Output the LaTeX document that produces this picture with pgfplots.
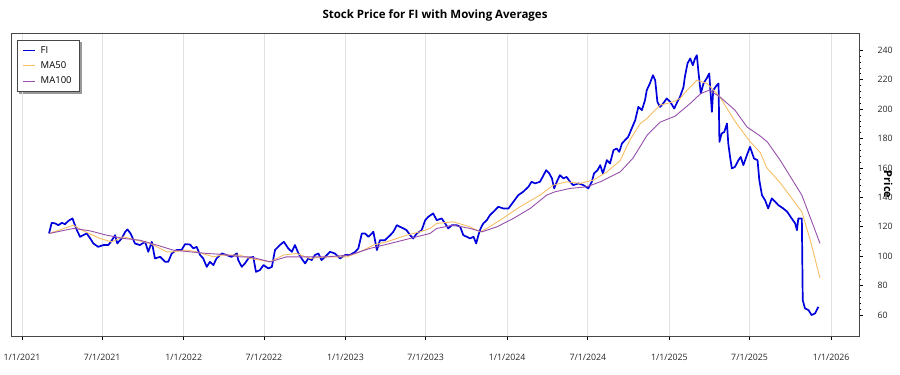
\documentclass[border=0pt]{standalone}
\usepackage{pgfplots}
\pgfplotsset{compat=1.18}
\usepackage{pgfplotstable}
\usepackage{fontspec}
\setmainfont{Open Sans}
\usetikzlibrary{backgrounds}
\definecolor{fiblue}{RGB}{0,0,220}
\definecolor{maorange}{RGB}{245,190,100}
\definecolor{mapurple}{RGB}{150,80,170}
\definecolor{gridc}{RGB}{226,226,226}
\definecolor{framec}{RGB}{70,70,70}

\pgfplotstableread{
d v
61 115.5
67 122.7
75 122.3
82 121.1
90 122.7
97 121.8
105 124.1
114 125.7
118 122.3
124 117.7
131 113.2
138 114.3
146 115.5
154 112.1
161 108.7
172 106.4
184 107.6
195 107.6
203 110.9
210 114.3
215 108.7
225 112.1
233 116.6
238 118.2
245 115.5
255 108.7
266 107.6
278 109.8
285 103.0
293 109.8
300 98.5
312 99.6
323 96.2
330 96.2
338 101.9
349 104.2
360 104.2
368 108.2
379 108.0
387 105.3
394 106.4
402 100.8
409 98.5
417 92.8
424 96.2
432 94.0
439 98.5
451 101.9
462 100.8
473 99.6
485 101.9
488 97.4
496 92.8
503 95.1
511 98.5
522 99.6
528 89.4
537 90.6
545 94.0
556 91.7
564 92.8
571 104.2
582 107.6
591 109.8
601 105.3
609 103.0
616 107.6
624 101.9
631 98.5
639 95.1
646 98.5
654 97.4
661 100.8
669 101.9
676 97.4
684 99.6
695 103.0
706 101.9
718 98.5
729 100.8
740 100.8
752 103.0
759 105.3
767 115.5
774 115.5
782 113.2
793 116.6
801 104.2
808 110.9
819 110.9
831 114.3
838 116.6
846 121.1
853 120.0
861 118.9
868 117.7
876 114.3
883 112.1
891 115.5
902 117.7
910 124.5
917 126.8
928 129.1
936 124.5
947 125.7
955 122.3
962 118.9
970 121.1
981 121.1
989 120.0
996 114.3
1004 113.2
1011 112.1
1019 113.2
1025 108.7
1030 114.3
1035 118.9
1041 122.3
1049 124.5
1056 127.9
1064 130.2
1075 133.6
1086 132.5
1098 132.5
1109 137.0
1120 141.5
1131 143.8
1143 147.2
1150 150.6
1158 149.5
1169 150.6
1175 153.9
1183 158.5
1190 156.3
1196 152.9
1201 146.1
1207 150.6
1214 155.1
1222 152.9
1229 153.9
1237 150.6
1244 148.3
1256 149.5
1267 148.3
1278 146.1
1286 150.6
1291 156.3
1299 158.5
1305 161.9
1311 156.3
1320 165.3
1327 163.0
1335 172.1
1342 173.2
1348 170.9
1354 176.6
1361 178.9
1368 181.1
1376 186.8
1384 192.5
1391 201.5
1399 199.3
1406 206.0
1410 212.8
1417 217.4
1424 223.0
1429 219.6
1434 204.9
1440 201.5
1447 203.8
1455 207.2
1463 204.9
1472 200.4
1479 204.9
1485 208.3
1493 215.1
1496 221.9
1502 231.0
1508 234.4
1514 229.8
1519 234.4
1523 236.6
1527 224.2
1532 210.6
1538 217.4
1545 220.8
1551 224.2
1557 198.1
1560 212.8
1568 216.2
1572 217.4
1574 177.7
1579 183.4
1585 184.5
1591 190.2
1594 176.6
1598 167.5
1602 159.7
1609 160.7
1617 165.3
1622 167.5
1628 161.9
1636 168.7
1643 174.3
1647 170.9
1652 166.4
1660 165.3
1664 151.7
1670 141.5
1677 138.1
1684 132.5
1692 139.3
1700 137.0
1707 134.7
1718 132.5
1727 130.2
1737 125.7
1745 122.3
1749 117.7
1752 125.7
1760 125.7
1762 70.2
1767 64.6
1775 63.4
1782 60.0
1790 61.2
1797 65.6
}\fidata

\pgfplotstableread{
d v
62 115.5
116 121.1
138 117.3
176 112.1
202 109.8
229 113.2
259 110.9
289 108.7
327 103.0
341 103.0
372 104.2
394 103.0
432 99.6
451 100.8
492 100.8
515 98.5
560 96.2
590 100.8
620 101.9
650 98.5
688 99.6
733 99.6
763 103.0
793 107.6
823 109.8
868 114.3
898 116.6
921 118.9
936 122.3
973 123.4
1011 120.0
1034 116.6
1049 118.9
1079 124.5
1124 133.6
1169 141.5
1199 148.3
1229 150.6
1259 149.5
1289 151.7
1320 157.3
1350 165.0
1372 179.0
1395 190.0
1410 193.5
1440 202.7
1469 204.9
1485 207.2
1501 212.8
1523 219.6
1546 217.4
1575 208.3
1598 197.0
1613 190.0
1643 178.0
1666 170.5
1681 160.0
1711 150.0
1760 130.2
1779 110.9
1801 85.1
}\mafifty

\pgfplotstableread{
d v
62 115.5
116 118.9
153 117.3
191 114.3
229 112.1
266 110.9
304 107.6
341 104.2
379 103.0
417 101.9
454 101.2
492 99.6
515 99.6
560 96.2
597 99.6
635 99.6
688 99.6
740 100.8
785 105.3
831 108.7
876 112.1
921 115.5
936 118.9
973 121.1
1011 118.9
1038 116.6
1072 120.0
1109 125.7
1147 132.5
1184 141.5
1203 143.8
1237 146.1
1275 147.2
1305 150.6
1350 157.3
1379 166.7
1411 182.3
1440 191.1
1474 195.2
1508 203.8
1532 210.6
1551 212.8
1575 208.3
1609 199.3
1636 187.9
1666 181.7
1682 177.7
1711 165.3
1760 141.5
1801 108.7
}\mahundred

\begin{document}
\begin{tikzpicture}[x=1pt,y=1pt]
\path[use as bounding box] (0,0) rectangle (900,375);
\begin{axis}[
  at={(11pt,39pt)}, anchor=south west,
  scale only axis, width=848pt, height=303pt,
  xmin=-24.8, xmax=1889, ymin=45.8, ymax=251.7,
  xtick={0,181,365,546,730,911,1095,1277,1461,1642,1826},
  xticklabels={1/1/2021,7/1/2021,1/1/2022,7/1/2022,1/1/2023,7/1/2023,1/1/2024,7/1/2024,1/1/2025,7/1/2025,1/1/2026},
  xmajorgrids,
  major grid style={gridc, line width=0.8pt},
  ytick={60,80,...,240},
  minor y tick num=4,
  xtick pos=bottom, ytick pos=right,
  yticklabel pos=right,
  tick align=outside,
  major tick length=4pt, minor tick length=2pt,
  tick style={black, line width=0.7pt},
  axis line style={framec, line width=0.9pt},
  /pgf/number format/assume math mode=true,
  tick label style={font=\fontsize{8.8}{10}\selectfont, text=black!85},
  xticklabel style={anchor=center, yshift=-17pt},
  yticklabel style={anchor=west, xshift=11pt},
  ylabel={Price},
  ylabel style={at={(axis description cs:1.0345,0.5)}, anchor=center, rotate=180, font=\bfseries\fontsize{11}{12}\selectfont},
  title={Stock Price for FI with Moving Averages},
  title style={at={(axis description cs:0.5,1)}, anchor=center, yshift=12pt, font=\bfseries\fontsize{11.5}{13}\selectfont},
  legend style={name=leg, at={(axis description cs:0.0067,0.977)}, anchor=north west, draw=framec, fill=white, line width=0.7pt,
    font=\fontsize{9.5}{11}\selectfont,
    inner xsep=5pt, inner ysep=4pt, row sep=3pt,
    nodes={inner xsep=3pt},
    /tikz/every odd column/.append style={column sep=2pt}},
  legend cell align=left,
  legend image code/.code={\draw[#1] (0pt,0pt) -- (12pt,0pt);},
]
\addplot[fiblue, line width=1.7pt, line join=round] table[x=d,y=v] {\fidata};
\addlegendentry{FI}
\addplot[maorange, line width=0.9pt] table[x=d,y=v] {\mafifty};
\addlegendentry{MA50}
\addplot[mapurple, line width=0.9pt] table[x=d,y=v] {\mahundred};
\addlegendentry{MA100}
\end{axis}
\begin{scope}[on background layer]
\fill[black!40] ([xshift=2.5pt,yshift=-2.5pt]leg.south west) rectangle ([xshift=2.5pt,yshift=-2.5pt]leg.north east);
\end{scope}
\end{tikzpicture}
\end{document}
